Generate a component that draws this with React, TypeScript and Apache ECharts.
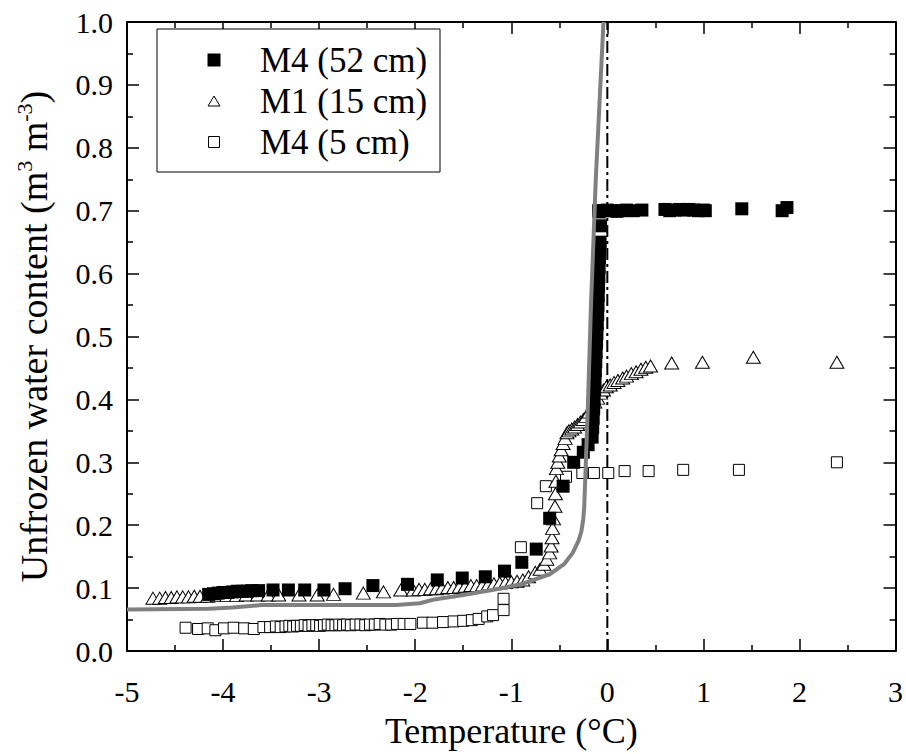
import React, { useEffect, useRef } from "react";
import * as echarts from "echarts";

const FONT = "Liberation Serif";

const xTicks = [-5, -4, -3, -2, -1, 0, 1, 2, 3];
const yTicks = [0, 0.1, 0.2, 0.3, 0.4, 0.5, 0.6, 0.7, 0.8, 0.9, 1.0];

const seriesNames = ["M4 (52 cm)", "M1 (15 cm)", "M4 (5 cm)"];

// M4 (52 cm) filled squares [T, theta]
const m4deep: number[][] = [
  [-4.15, 0.090], [-4.10, 0.091], [-4.05, 0.092], [-4.00, 0.093], [-3.95, 0.093],
  [-3.90, 0.094], [-3.85, 0.095], [-3.80, 0.095], [-3.75, 0.095], [-3.70, 0.096],
  [-3.63, 0.096], [-3.48, 0.097], [-3.32, 0.097], [-3.15, 0.097], [-2.95, 0.097],
  [-2.73, 0.099], [-2.44, 0.104], [-2.08, 0.106], [-1.77, 0.113], [-1.51, 0.116],
  [-1.27, 0.118], [-1.07, 0.127], [-0.89, 0.141], [-0.74, 0.162], [-0.60, 0.211],
  [-0.46, 0.262], [-0.35, 0.300], [-0.25, 0.316], [-0.20, 0.328], [-0.158, 0.340],
  [-0.152, 0.355], [-0.147, 0.370], [-0.142, 0.385], [-0.137, 0.400], [-0.132, 0.415],
  [-0.128, 0.430], [-0.124, 0.445], [-0.120, 0.460], [-0.116, 0.475], [-0.112, 0.490],
  [-0.108, 0.505], [-0.104, 0.520], [-0.100, 0.535], [-0.097, 0.550], [-0.094, 0.565],
  [-0.091, 0.580], [-0.088, 0.595], [-0.085, 0.610], [-0.082, 0.625], [-0.078, 0.640],
  [-0.075, 0.650], [-0.070, 0.676], [-0.090, 0.700], [-0.085, 0.698], [-0.04, 0.700],
  [0.00, 0.701], [0.05, 0.700], [0.10, 0.699], [0.15, 0.700], [0.20, 0.701],
  [0.27, 0.700], [0.36, 0.701], [0.60, 0.702], [0.65, 0.700], [0.70, 0.701],
  [0.75, 0.702], [0.80, 0.701], [0.85, 0.702], [0.90, 0.701], [0.95, 0.700],
  [1.00, 0.701], [1.02, 0.700], [1.40, 0.703], [1.82, 0.700], [1.87, 0.705],
];

// M1 (15 cm) open triangles
const m1: number[][] = [
  [-4.73, 0.084], [-4.66, 0.084], [-4.60, 0.085], [-4.54, 0.085], [-4.48, 0.086],
  [-4.42, 0.086], [-4.36, 0.086], [-4.30, 0.087], [-4.24, 0.087], [-4.16, 0.087],
  [-4.06, 0.088], [-3.96, 0.088], [-3.86, 0.088], [-3.76, 0.089], [-3.64, 0.089],
  [-3.53, 0.089], [-3.42, 0.089], [-3.21, 0.089], [-3.02, 0.089], [-2.85, 0.090],
  [-2.54, 0.092], [-2.33, 0.094], [-2.15, 0.097], [-2.02, 0.097], [-1.96, 0.098],
  [-1.90, 0.098], [-1.84, 0.099], [-1.78, 0.099], [-1.72, 0.100], [-1.66, 0.101],
  [-1.60, 0.101], [-1.54, 0.102], [-1.48, 0.103], [-1.42, 0.104], [-1.36, 0.104],
  [-1.30, 0.105], [-1.24, 0.106], [-1.18, 0.107], [-1.12, 0.108], [-1.06, 0.109],
  [-1.00, 0.110], [-0.94, 0.111], [-0.88, 0.113], [-0.82, 0.118], [-0.75, 0.125],
  [-0.70, 0.130], [-0.66, 0.138], [-0.63, 0.146], [-0.60, 0.156], [-0.585, 0.167],
  [-0.575, 0.180], [-0.57, 0.195], [-0.56, 0.210], [-0.545, 0.230], [-0.54, 0.250],
  [-0.535, 0.270], [-0.53, 0.290], [-0.515, 0.300], [-0.50, 0.310], [-0.48, 0.320],
  [-0.46, 0.330], [-0.44, 0.338], [-0.42, 0.347], [-0.40, 0.350], [-0.37, 0.353],
  [-0.34, 0.356], [-0.31, 0.360], [-0.28, 0.364], [-0.25, 0.368], [-0.22, 0.373],
  [-0.19, 0.380], [-0.16, 0.388], [-0.13, 0.396], [-0.10, 0.402], [-0.07, 0.410],
  [-0.04, 0.415], [-0.01, 0.420], [0.03, 0.423], [0.07, 0.427], [0.11, 0.430],
  [0.16, 0.434], [0.20, 0.437], [0.25, 0.441], [0.30, 0.444], [0.35, 0.448],
  [0.40, 0.451], [0.45, 0.453], [0.67, 0.458], [0.99, 0.459], [1.52, 0.467],
  [2.39, 0.459],
];

// M4 (5 cm) open squares
const m4shallow: number[][] = [
  [-4.39, 0.037], [-4.26, 0.035], [-4.16, 0.036], [-4.08, 0.033], [-3.99, 0.036],
  [-3.89, 0.037], [-3.78, 0.036], [-3.68, 0.035], [-3.58, 0.038], [-3.51, 0.038],
  [-3.45, 0.039], [-3.40, 0.038], [-3.35, 0.039], [-3.31, 0.040], [-3.27, 0.039],
  [-3.23, 0.040], [-3.19, 0.040], [-3.15, 0.041], [-3.11, 0.040], [-3.07, 0.041],
  [-3.03, 0.041], [-2.99, 0.040], [-2.95, 0.041], [-2.91, 0.042], [-2.87, 0.041],
  [-2.83, 0.041], [-2.79, 0.042], [-2.75, 0.041], [-2.71, 0.042], [-2.67, 0.041],
  [-2.62, 0.042], [-2.57, 0.042], [-2.52, 0.041], [-2.47, 0.042], [-2.42, 0.042],
  [-2.37, 0.043], [-2.31, 0.042], [-2.25, 0.042], [-2.19, 0.043], [-2.12, 0.043],
  [-2.05, 0.043], [-1.92, 0.045], [-1.82, 0.045], [-1.71, 0.046], [-1.60, 0.047],
  [-1.50, 0.048], [-1.41, 0.049], [-1.34, 0.051], [-1.25, 0.055], [-1.19, 0.057],
  [-1.08, 0.065], [-1.08, 0.083], [-0.90, 0.165], [-0.73, 0.235], [-0.64, 0.262],
  [-0.43, 0.277], [-0.26, 0.283], [-0.14, 0.283], [0.01, 0.283], [0.18, 0.286],
  [0.43, 0.286], [0.79, 0.288], [1.37, 0.288], [2.39, 0.300],
];

// model curve (grey line)
const modelCurve: number[][] = [
  [-5.0, 0.066], [-4.15, 0.067], [-3.9, 0.069], [-3.6, 0.073], [-3.0, 0.073],
  [-2.2, 0.073], [-1.95, 0.076], [-1.8, 0.082], [-1.5, 0.089], [-1.2, 0.097],
  [-0.9, 0.106], [-0.6, 0.122], [-0.45, 0.138], [-0.36, 0.156], [-0.3, 0.175],
  [-0.27, 0.19], [-0.25, 0.21], [-0.24, 0.23], [-0.2, 0.40], [-0.17, 0.55],
  [-0.12, 0.75], [-0.04, 1.0],
];

// freezing point reference line
const zeroLine: number[][] = [[0, 0], [0, 1]];

export default function App() {
  const ref = useRef<HTMLDivElement>(null);

  useEffect(() => {
    if (!ref.current) return;
    const chart = echarts.init(ref.current, undefined, { renderer: "svg" });

    const axisLine = { show: true, onZero: false, lineStyle: { color: "#000", width: 2 } };
    const tick = { show: true, inside: true, length: 12, lineStyle: { color: "#000", width: 1.5 } };
    const minor = { show: true, splitNumber: 2, length: 6, lineStyle: { color: "#000", width: 1.5 } };

    const legendRows = [60, 101, 142];

    chart.setOption({
      animation: false,
      backgroundColor: "#fff",
      grid: { left: 127, right: 9, top: 22, bottom: 103, containLabel: false },
      xAxis: [
        {
          type: "value",
          min: xTicks[0],
          max: xTicks[xTicks.length - 1],
          interval: 1,
          position: "bottom",
          axisLine,
          axisTick: tick,
          minorTick: minor,
          splitLine: { show: false },
          axisLabel: {
            color: "#000",
            fontFamily: FONT,
            fontSize: 30,
            margin: 25,
          },
          name: "Temperature (°C)",
          nameLocation: "middle",
          nameGap: 62,
          nameTextStyle: { color: "#000", fontFamily: FONT, fontSize: 36 },
        },
        {
          type: "value",
          min: xTicks[0],
          max: xTicks[xTicks.length - 1],
          interval: 1,
          position: "top",
          axisLine,
          axisTick: tick,
          minorTick: minor,
          splitLine: { show: false },
          axisLabel: { show: false },
        },
      ],
      yAxis: [
        {
          type: "value",
          min: yTicks[0],
          max: yTicks[yTicks.length - 1],
          interval: 0.1,
          position: "left",
          axisLine,
          axisTick: tick,
          minorTick: minor,
          splitLine: { show: false },
          axisLabel: {
            color: "#000",
            fontFamily: FONT,
            fontSize: 30,
            margin: 14,
            formatter: (v: number) => v.toFixed(1),
          },
          name: "{a|Unfrozen water content (m}{s|3}{a| m}{s|-3}{a|)}",
          nameLocation: "middle",
          nameRotate: 90,
          nameGap: 72,
          nameTextStyle: {
            color: "#000",
            fontFamily: FONT,
            fontSize: 38,
            rich: {
              a: { fontFamily: FONT, fontSize: 38, color: "#000", lineHeight: 42 },
              s: { fontFamily: FONT, fontSize: 22, color: "#000", verticalAlign: "top", lineHeight: 42 },
            },
          },
        },
        {
          type: "value",
          min: yTicks[0],
          max: yTicks[yTicks.length - 1],
          interval: 0.1,
          position: "right",
          axisLine,
          axisTick: tick,
          minorTick: minor,
          splitLine: { show: false },
          axisLabel: { show: false },
        },
      ],
      series: [
        {
          type: "line",
          data: zeroLine,
          symbol: "none",
          silent: true,
          lineStyle: { color: "#000", width: 2, type: [12, 4, 3, 4] },
          z: 1,
        },
        {
          name: seriesNames[2],
          type: "scatter",
          data: m4shallow,
          symbol: "rect",
          symbolSize: 11,
          itemStyle: { color: "#fff", borderColor: "#000", borderWidth: 1, opacity: 1 },
          z: 2,
        },
        {
          name: seriesNames[1],
          type: "scatter",
          data: m1,
          symbol: "triangle",
          symbolSize: [14, 12],
          itemStyle: { color: "#fff", borderColor: "#000", borderWidth: 1, opacity: 1 },
          z: 3,
        },
        {
          name: seriesNames[0],
          type: "scatter",
          data: m4deep,
          symbol: "rect",
          symbolSize: 13,
          itemStyle: { color: "#000", opacity: 1 },
          z: 4,
        },
        {
          type: "line",
          data: modelCurve,
          symbol: "none",
          smooth: false,
          silent: true,
          lineStyle: { color: "#808080", width: 4 },
          z: 5,
        },
      ],
      graphic: [
        {
          type: "rect",
          shape: { x: 157, y: 29, width: 283, height: 143 },
          style: { fill: "#fff", stroke: "#000", lineWidth: 1 },
          z: 10,
        },
        {
          type: "rect",
          shape: { x: 207.5, y: legendRows[0] - 6.5, width: 13, height: 13 },
          style: { fill: "#000" },
          z: 11,
        },
        {
          type: "polygon",
          shape: {
            points: [
              [214, legendRows[1] - 5],
              [208, legendRows[1] + 5],
              [220, legendRows[1] + 5],
            ],
          },
          style: { fill: "#fff", stroke: "#000", lineWidth: 1 },
          z: 11,
        },
        {
          type: "rect",
          shape: { x: 208.5, y: legendRows[2] - 5.5, width: 11, height: 11 },
          style: { fill: "#fff", stroke: "#000", lineWidth: 1 },
          z: 11,
        },
        ...seriesNames.map((n, i) => ({
          type: "text",
          x: 260,
          y: legendRows[i],
          style: {
            text: n,
            fontFamily: FONT,
            fontSize: 35,
            fill: "#000",
            align: "left",
            verticalAlign: "middle",
          },
          z: 11,
        })),
      ],
    });

    return () => chart.dispose();
  }, []);

  return (
    <div
      ref={ref}
      style={{ position: "absolute", left: 0, top: 0, width: 906, height: 754 }}
    />
  );
}
